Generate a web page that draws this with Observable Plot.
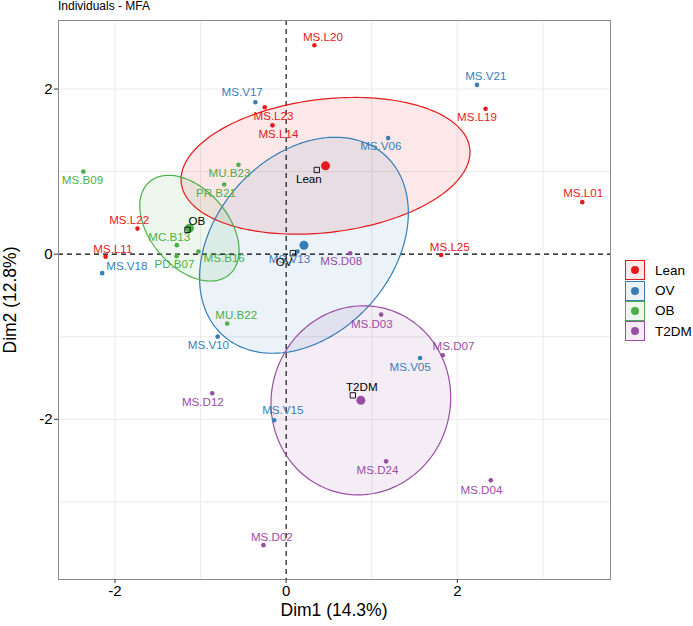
<!DOCTYPE html>
<html>
<head>
<meta charset="utf-8">
<script src="https://cdn.jsdelivr.net/npm/d3@7"></script>
<script src="https://cdn.jsdelivr.net/npm/@observablehq/plot@0.6"></script>
<style>
  body { margin: 0; background: #fff; font-family: "Liberation Sans", Arial, Helvetica, sans-serif; }
  #wrap { position: relative; width: 693px; height: 626px; overflow: hidden; }
  #wrap svg { position: absolute; left: 0; top: 0; }
  .ov { position: absolute; white-space: nowrap; color: #000; }
  #title { left: 58px; top: -1px; font-size: 12px; line-height: 14px; }
  #xtitle { left: 334px; top: 600px; font-size: 17.5px; line-height: 20px; transform: translateX(-50%); }
  #ytitle { left: 10px; top: 300px; font-size: 17.5px; line-height: 20px; transform: translate(-50%, -50%) rotate(-90deg); }
  #legend { left: 625px; top: 260px; font-size: 13.5px; }
  .lrow { display: flex; align-items: center; height: 20.4px; }
  .lrow span { margin-left: 10px; }
</style>
</head>
<body>
<div id="wrap"></div>
<script>
// ---- data ----
const groups = ["Lean", "OV", "OB", "T2DM"];
const groupColors = ["#E41A1C", "#377EB8", "#4DAF4A", "#984EA3"];

const indNames = [
  "MS.L20", "MS.L23", "MS.L14", "MS.L19", "MS.L01", "MS.L22", "MS.L11", "MS.L25",
  "MS.V17", "MS.V21", "MS.V06", "MS.V13", "MS.V18", "MS.V10", "MS.V05", "MS.V15",
  "MS.B09", "MU.B23", "PR.B21", "MC.B13", "PD.B07", "MS.B16", "MU.B22",
  "MS.D08", "MS.D03", "MS.D07", "MS.D12", "MS.D24", "MS.D04", "MS.D02"
];
const indGroup = [
  "Lean", "Lean", "Lean", "Lean", "Lean", "Lean", "Lean", "Lean",
  "OV", "OV", "OV", "OV", "OV", "OV", "OV", "OV",
  "OB", "OB", "OB", "OB", "OB", "OB", "OB",
  "T2DM", "T2DM", "T2DM", "T2DM", "T2DM", "T2DM", "T2DM"
];
const indDim1 = [
  0.33, -0.25, -0.16, 2.33, 3.46, -1.737, -2.11, 1.81,
  -0.36, 2.23, 1.192, 0.132, -2.15, -0.80, 1.565, -0.14,
  -2.37, -0.557, -0.724, -1.277, -1.28, -1.025, -0.689,
  0.748, 1.11, 1.83, -0.864, 1.168, 2.391, -0.265
];
const indDim2 = [
  2.53, 1.78, 1.56, 1.76, 0.63, 0.31, -0.03, -0.01,
  1.84, 2.05, 1.406, 0.032, -0.23, -0.999, -1.257, -2.012,
  1.0, 1.082, 0.844, 0.109, -0.024, 0.032, -0.841,
  0.012, -0.732, -1.224, -1.685, -2.509, -2.739, -3.524
];
// repelled label anchors (data units)
const labelDim1 = [
  0.43, -0.148, -0.09, 2.23, 3.47, -1.834, -2.025, 1.912,
  -0.514, 2.333, 1.106, 0.039, -1.861, -0.908, 1.449, -0.039,
  -2.38, -0.662, -0.82, -1.367, -1.305, -0.724, -0.584,
  0.643, 1.001, 1.955, -0.973, 1.067, 2.282, -0.167
];
const labelDim2 = [
  2.63, 1.664, 1.455, 1.656, 0.735, 0.416, 0.06, 0.088,
  1.955, 2.149, 1.304, -0.06, -0.142, -1.10, -1.366, -1.891,
  0.90, 0.982, 0.743, 0.21, -0.121, -0.053, -0.739,
  -0.09, -0.848, -1.12, -1.794, -2.618, -2.857, -3.423
];

// group barycentres (large dots, ellipse centres)
const meanDim1 = [0.46, 0.208, -1.13, 0.873];
const meanDim2 = [1.07, 0.108, 0.315, -1.77];
// supplementary categories (squares) and their labels
const catDim1 = [0.358, 0.078, -1.153, 0.779];
const catDim2 = [1.02, 0.012, 0.295, -1.71];
const catLabelDim1 = [0.265, -0.023, -1.043, 0.884];
const catLabelDim2 = [0.91, -0.10, 0.404, -1.61];
// confidence ellipses: half-extent on Dim1, half-extent on Dim2, correlation
const ellRx = [1.688, 1.22, 0.58, 1.05];
const ellRy = [0.828, 1.308, 0.64, 1.145];
const ellRho = [0.2, 0.3, -0.42, 0.03];

const xTicks = [-2, 0, 2];
const yTicks = [-2, 0, 2];
const gridX = [-2, -1, 1, 2, 3];
const gridY = [-3, -2, -1, 1, 2];

// ---- build tables ----
const ind = indNames.map((n, i) => ({name: n, g: indGroup[i], x: indDim1[i], y: indDim2[i], lx: labelDim1[i], ly: labelDim2[i]}));
const means = groups.map((g, i) => ({g, x: meanDim1[i], y: meanDim2[i]}));
const cats = groups.map((g, i) => ({name: g, x: catDim1[i], y: catDim2[i], lx: catLabelDim1[i], ly: catLabelDim2[i]}));
const ell = [];
groups.forEach((g, i) => {
  const s = Math.sqrt(1 - ellRho[i] * ellRho[i]);
  for (let k = 0; k < 180; k++) {
    const t = (2 * Math.PI * k) / 180;
    ell.push({g, x: meanDim1[i] + ellRx[i] * Math.cos(t), y: meanDim2[i] + ellRy[i] * (ellRho[i] * Math.cos(t) + s * Math.sin(t))});
  }
});

const font = '"Liberation Sans", Arial, Helvetica, sans-serif';
const plot = Plot.plot({
  width: 693,
  height: 626,
  marginLeft: 58,
  marginRight: 83,
  marginTop: 20,
  marginBottom: 47,
  x: {domain: [-2.66, 3.79]},
  y: {domain: [-3.94, 2.83]},
  color: {domain: groups, range: groupColors},
  style: {fontFamily: font, background: "transparent", color: "#000"},
  marks: [
    Plot.ruleX(gridX, {stroke: "#ebebeb", strokeWidth: 1}),
    Plot.ruleY(gridY, {stroke: "#ebebeb", strokeWidth: 1}),
    Plot.line(ell, {x: "x", y: "y", z: "g", fill: "g", fillOpacity: 0.1, stroke: null, curve: "linear-closed"}),
    Plot.ruleX([0], {stroke: "#000", strokeDasharray: "5,4", strokeWidth: 1.1}),
    Plot.ruleY([0], {stroke: "#000", strokeDasharray: "5,4", strokeWidth: 1.1}),
    Plot.line(ell, {x: "x", y: "y", z: "g", stroke: "g", strokeWidth: 1.2, curve: "linear-closed"}),
    Plot.dot(ind, {x: "x", y: "y", fill: "g", r: 2.3}),
    Plot.dot(means, {x: "x", y: "y", fill: "g", r: 4.5}),
    Plot.dot(cats, {x: "x", y: "y", symbol: "square", stroke: "#000", fill: "none", r: 3, strokeWidth: 0.9}),
    Plot.text(ind, {x: "lx", y: "ly", text: "name", fill: "g", fontSize: 11.6}),
    Plot.text(cats, {x: "lx", y: "ly", text: "name", fill: "#000", fontSize: 11.6}),
    Plot.frame({stroke: "#8a8a8a", strokeWidth: 1}),
    Plot.axisX(xTicks, {tickSize: 4, tickPadding: 2, fontSize: 15, label: null, tickFormat: d => String(d), stroke: "#333"}),
    Plot.axisY(yTicks, {tickSize: 4, tickPadding: 2, fontSize: 15, label: null, tickFormat: d => String(d), stroke: "#333"})
  ]
});

const wrap = document.getElementById("wrap");
wrap.appendChild(plot);

function addDiv(id, html) {
  const d = document.createElement("div");
  d.id = id; d.className = "ov"; d.innerHTML = html;
  wrap.appendChild(d);
}
addDiv("title", "Individuals - MFA");
addDiv("xtitle", "Dim1 (14.3%)");
addDiv("ytitle", "Dim2 (12.8%)");
addDiv("legend", groups.map((g, i) =>
  `<div class="lrow"><svg width="20" height="20" style="position:static"><rect x="0.5" y="0.5" width="19" height="19" fill="${groupColors[i]}" fill-opacity="0.1" stroke="${groupColors[i]}" stroke-width="1"/><circle cx="10" cy="10" r="4" fill="${groupColors[i]}"/></svg><span>${g}</span></div>`
).join(""));
</script>
</body>
</html>
